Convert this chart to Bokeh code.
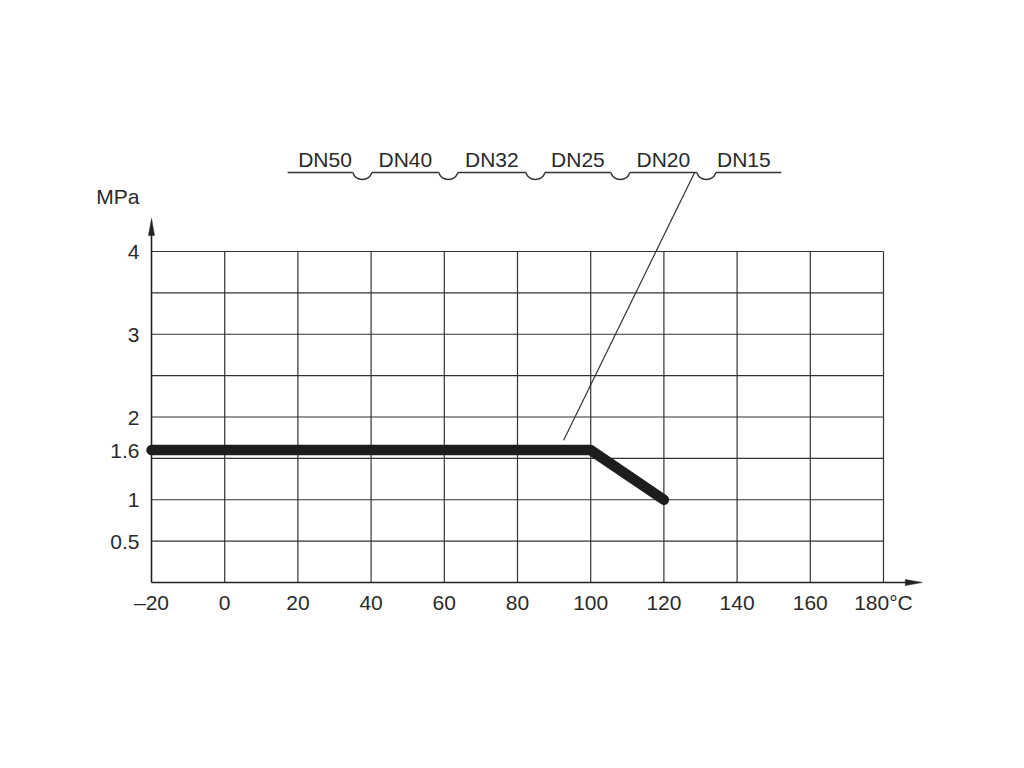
from bokeh.plotting import figure
from bokeh.models import Range1d, FixedTicker
from bokeh.embed import file_html
from bokeh.resources import INLINE
from bokeh.core.properties import value
import math

# ---------------- data ----------------
temperature = [-20, 100, 120]          # °C
pressure = [1.6, 1.6, 1.0]             # MPa
x_ticks = [-20, 0, 20, 40, 60, 80, 100, 120, 140, 160, 180]
x_tick_labels = ["–20", "0", "20", "40", "60", "80", "100", "120", "140", "160", "180°C"]
y_ticks = [0.5, 1, 1.6, 2, 3, 4]
y_tick_labels = ["0.5", "1", "1.6", "2", "3", "4"]
grid_x = [0, 20, 40, 60, 80, 100, 120, 140, 160, 180]
grid_y = [0.5, 1, 1.5, 2, 2.5, 3, 3.5, 4]
dn_sizes = ["DN50", "DN40", "DN32", "DN25", "DN20", "DN15"]
unit_label = "MPa"

# ---------------- layout constants ----------------
SX = 73.2 / 20.0      # px per °C
SY = 82.75            # px per MPa
FONT = "Liberation Sans"
FS = "21px"
INK = "#2a2a2a"

X_START = -20 - 6 / SX
FRAME_W = 785
X_END = X_START + FRAME_W / SX
Y_START = -8 / SY
FRAME_H = 450
Y_END = Y_START + FRAME_H / SY

X_TIP = 190.6
Y_TIP = 4.40
AH_LEN, AH_HALF = 17, 3
UNIT_Y = 4.66

HEADER_Y = 4.955
HEADER_X0, HEADER_X1 = 17.2, 152.1
HEADER_JOINTS = [37.6, 61.1, 84.9, 108.1, 131.6]
ARC_R = 10            # px
ARC_LIFT = 3          # px
LEADER = ((92.6, 1.72), (128.4, HEADER_Y))

p = figure(frame_width=FRAME_W, frame_height=FRAME_H,
           x_range=Range1d(X_START, X_END), y_range=Range1d(Y_START, Y_END),
           min_border_left=145, min_border_top=140, min_border_right=20,
           min_border_bottom=60, toolbar_location=None, output_backend="svg",
           title=None)
p.outline_line_color = None
p.xgrid.visible = False
p.ygrid.visible = False
p.background_fill_color = "white"
p.border_fill_color = "white"

# axes (labels only); the unit sits above the top tick on the y axis
p.xaxis.ticker = FixedTicker(ticks=x_ticks)
p.xaxis.major_label_overrides = {t: l for t, l in zip(x_ticks, x_tick_labels)}
p.yaxis.ticker = FixedTicker(ticks=y_ticks + [UNIT_Y])
y_over = {t: l for t, l in zip(y_ticks, y_tick_labels)}
y_over[UNIT_Y] = unit_label
p.yaxis.major_label_overrides = y_over
for ax in (p.xaxis, p.yaxis):
    ax.axis_line_color = None
    ax.major_tick_line_color = None
    ax.minor_tick_line_color = None
    ax.major_tick_in = 0
    ax.major_tick_out = 0
    ax.major_label_text_font = FONT
    ax.major_label_text_font_size = FS
    ax.major_label_text_color = INK
p.xaxis.major_label_standoff = 0
p.yaxis.major_label_standoff = 6

# grid
p.segment(x0=grid_x, y0=[0] * len(grid_x), x1=grid_x, y1=[4] * len(grid_x),
          line_color="#333333", line_width=1.2)
p.segment(x0=[-20] * len(grid_y), y0=grid_y, x1=[180] * len(grid_y), y1=grid_y,
          line_color="#333333", line_width=1.2)

# axis lines with arrowheads
p.segment(x0=[-20, -20], y0=[0, 0], x1=[X_TIP - AH_LEN / SX / 2, -20],
          y1=[0, Y_TIP - AH_LEN / SY / 2], line_color="#222222", line_width=1.6)
p.patches(
    xs=[[X_TIP, X_TIP - AH_LEN / SX, X_TIP - AH_LEN / SX],
        [-20, -20 - AH_HALF / SX, -20 + AH_HALF / SX]],
    ys=[[0, AH_HALF / SY, -AH_HALF / SY],
        [Y_TIP, Y_TIP - AH_LEN / SY, Y_TIP - AH_LEN / SY]],
    fill_color="#222222", line_color="#222222", line_width=0.5)

# pressure-temperature line
p.line(temperature, pressure, line_width=10.5, line_color="#1e1c1c",
       line_cap="round", line_join="round")

# leader line
p.segment(x0=[LEADER[0][0]], y0=[LEADER[0][1]], x1=[LEADER[1][0]], y1=[LEADER[1][1]],
          line_color="#333333", line_width=1.2)

# header with arcs
half = ARC_R * math.cos(math.asin(ARC_LIFT / ARC_R)) / SX
bounds = [HEADER_X0] + HEADER_JOINTS + [HEADER_X1]
seg_x0 = [HEADER_X0] + [j + half for j in HEADER_JOINTS]
seg_x1 = [j - half for j in HEADER_JOINTS] + [HEADER_X1]
p.segment(x0=seg_x0, y0=[HEADER_Y] * len(seg_x0), x1=seg_x1, y1=[HEADER_Y] * len(seg_x1),
          line_color="#333333", line_width=1.4)
a0 = math.pi + math.asin(ARC_LIFT / ARC_R)
a1 = 2 * math.pi - math.asin(ARC_LIFT / ARC_R)
p.arc(x=HEADER_JOINTS, y=[HEADER_Y + ARC_LIFT / SY] * len(HEADER_JOINTS),
      radius=ARC_R, radius_units="screen", start_angle=a0, end_angle=a1,
      direction="anticlock", line_color="#333333", line_width=1.4)
label_x = [(bounds[i] + bounds[i + 1]) / 2 for i in range(len(dn_sizes))]
p.text(x=label_x, y=[HEADER_Y + 13 / SY] * len(dn_sizes), text=dn_sizes,
       text_font=value(FONT), text_font_size=FS, text_color=INK,
       text_align="center", text_baseline="alphabetic")

open("out.html", "w").write(file_html(p, INLINE))
